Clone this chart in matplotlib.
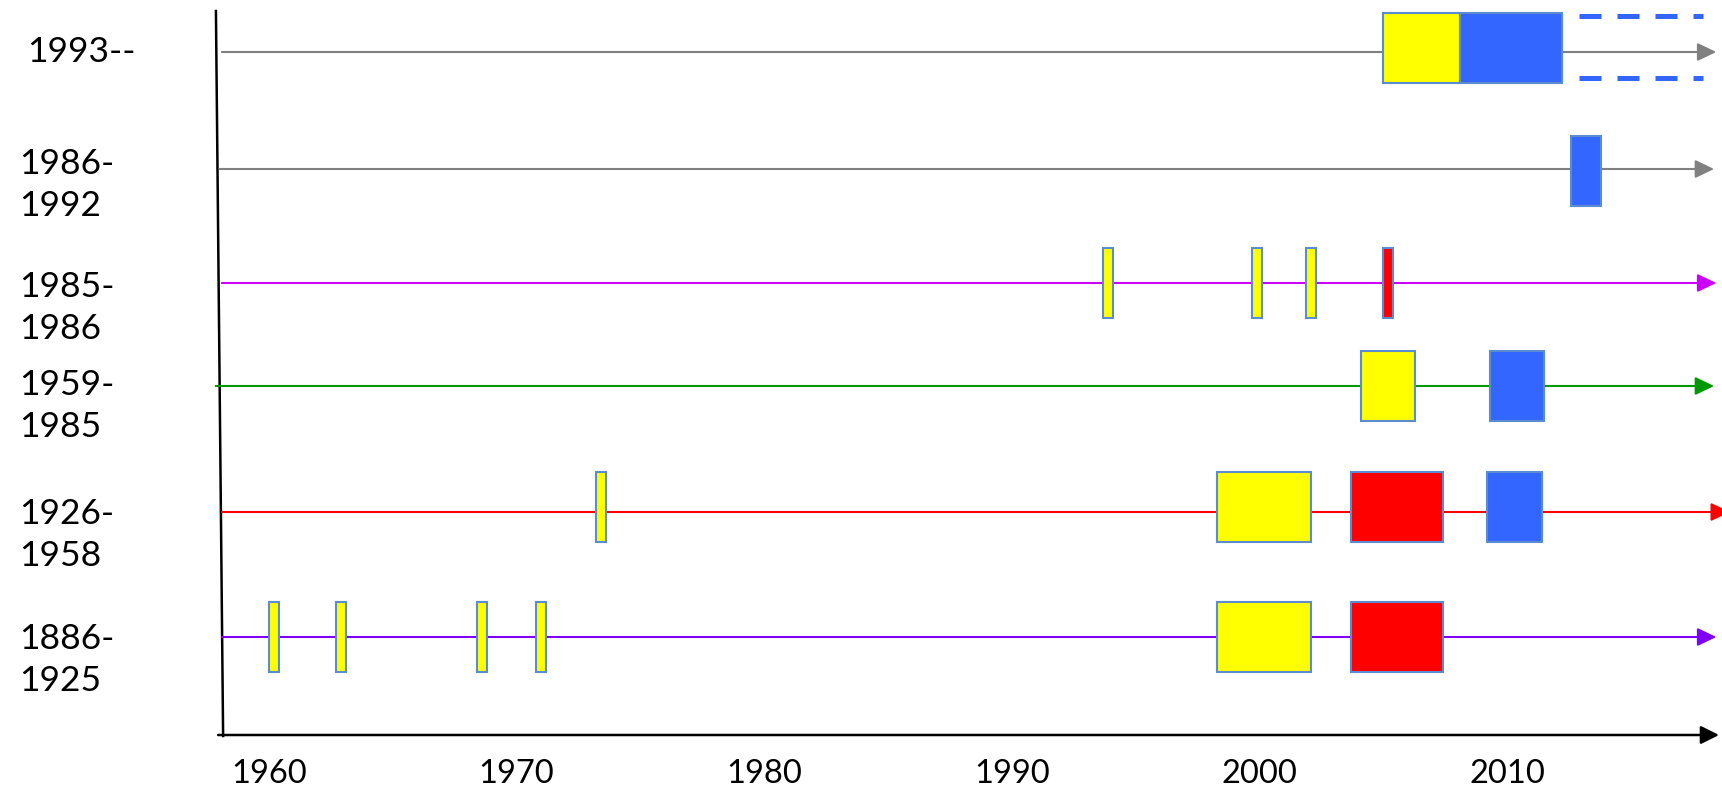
import matplotlib.pyplot as plt
from matplotlib.patches import Rectangle

# rows, top to bottom
row_labels = ['1993--', '1986-\n1992', '1985-\n1986', '1959-\n1985', '1926-\n1958', '1886-\n1925']
row_colors = ['#808080', '#808080', '#CC00FF', '#009900', '#FF0000', '#7F00FF']

# boxes on each row: (start year, end year, kind)
events = [
    [(2005.0, 2008.1, 'Y'), (2008.1, 2012.2, 'B')],
    [(2012.6, 2013.8, 'B')],
    [(1993.7, 1994.1, 'Y'), (1999.7, 2000.1, 'Y'), (2001.9, 2002.3, 'Y'), (2005.0, 2005.4, 'R')],
    [(2004.1, 2006.3, 'Y'), (2009.3, 2011.5, 'B')],
    [(1973.2, 1973.6, 'Y'), (1998.3, 2002.1, 'Y'), (2003.7, 2007.4, 'R'), (2009.2, 2011.4, 'B')],
    [(1960.0, 1960.4, 'Y'), (1962.7, 1963.1, 'Y'), (1968.4, 1968.8, 'Y'), (1970.8, 1971.2, 'Y'),
     (1998.3, 2002.1, 'Y'), (2003.7, 2007.4, 'R')],
]
# dashed continuation after the last box of the top row
ongoing = (2012.9, 2017.9)
tick_years = [1960, 1970, 1980, 1990, 2000, 2010]

kind_colors = {'Y': '#FFFF00', 'R': '#FF0000', 'B': '#3366FF'}

# layout (y in pixels from the top)
row_y = [52, 169, 283, 386, 512, 637]
box_y = [48, 171, 283, 386, 507, 637]
label_y = [52, 185, 308, 406, 535, 660]
line_start = [1958.1, 1958.0, 1958.1, 1957.85, 1958.1, 1958.1]
line_end = [2018.45, 2018.36, 2018.45, 2018.36, 2019.0, 2018.45]
half_h = 35

plt.rcParams['font.family'] = ['Lato', 'DejaVu Sans']
fig = plt.figure(figsize=(17.22, 7.91), dpi=100)
ax = fig.add_axes([0, 0, 1, 1])
ax.set_xlim(1949.14, 2018.68)
ax.set_ylim(791, 0)
ax.axis('off')

#axes: slightly tilted vertical line and x axis with an arrow
ax.plot([1957.86, 1958.15], [11, 736], color='black', lw=1.8)
ax.annotate('', xy=(2018.56, 735), xytext=(1957.95, 735), annotation_clip=False,
            arrowprops=dict(arrowstyle='-|>,head_length=1.1,head_width=0.55',
                            color='black', lw=1.8, shrinkA=0, shrinkB=0))

for i in range(len(row_labels)):
    y = row_y[i]
    ax.annotate('', xy=(line_end[i], y), xytext=(line_start[i], y), annotation_clip=False,
                arrowprops=dict(arrowstyle='-|>,head_length=1.15,head_width=0.55',
                                color=row_colors[i], lw=1.5, shrinkA=0, shrinkB=0))
    for start, end, kind in events[i]:
        ax.add_patch(Rectangle((start, box_y[i] - half_h), end - start, 2 * half_h,
                               facecolor=kind_colors[kind], edgecolor='#5B8BD0',
                               lw=1.5, zorder=3))
    lx = 0.0157 if i == 0 else 0.011
    ax.text(lx, label_y[i], row_labels[i], transform=ax.get_yaxis_transform(),
            ha='left', va='center', fontsize=25.5, linespacing=1.38)

# dashed lines showing the top row goes on
for dy in (-32, 30):
    ax.plot(ongoing, [box_y[0] + dy] * 2, color='#3366FF', lw=3.6,
            linestyle=(0, (4.4, 3.2)), solid_capstyle='butt', dash_capstyle='butt')

for t in tick_years:
    ax.text(t, 774, str(t), ha='center', va='center', fontsize=23.5)

fig.savefig('out.png', dpi=100)
